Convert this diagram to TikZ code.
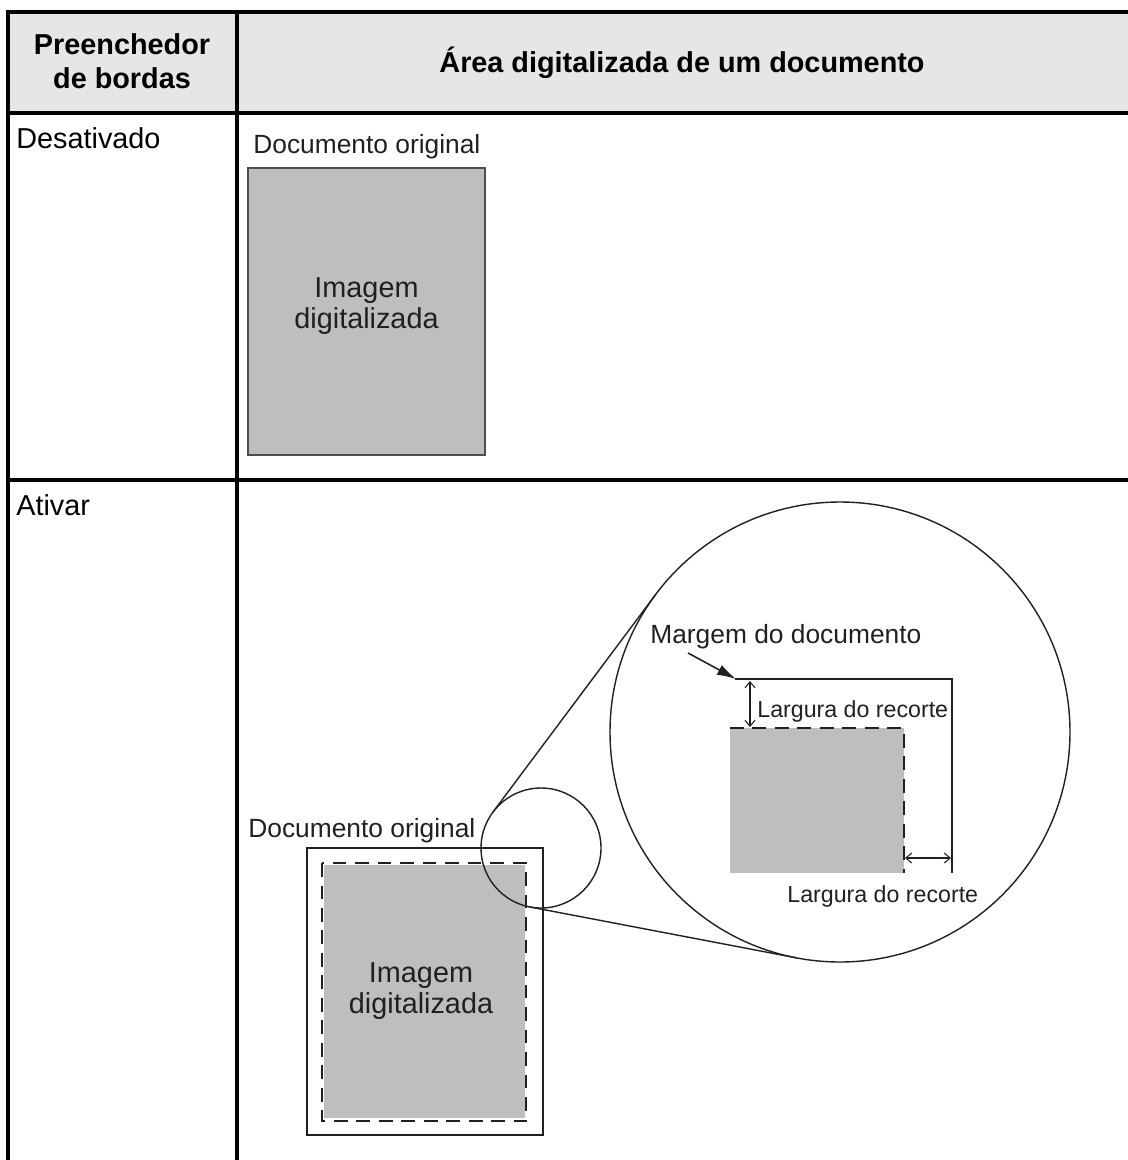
\documentclass[tikz,border=0pt]{standalone}
\usepackage{fontspec}
\setmainfont{Liberation Sans}
\usetikzlibrary{arrows.meta,calc}
\definecolor{tInk}{HTML}{231F20}
\definecolor{tHead}{HTML}{E6E6E6}
\definecolor{tScan}{HTML}{BCBEC0}
\tikzset{
  tline/.style   = {draw=black, line width=2pt},
  hdr/.style     = {font=\fontsize{16.4}{19.3}\selectfont\bfseries, text=black, align=center},
  rowlbl/.style  = {font=\fontsize{16.4}{19}\selectfont, text=black, anchor=base west, inner sep=0pt},
  doclbl/.style  = {font=\fontsize{15}{18}\selectfont, text=tInk, anchor=base west, inner sep=0pt},
  doclblsm/.style= {doclbl, font=\fontsize{13.2}{16}\selectfont},
  scan/.style    = {fill=tScan},
  scantxt/.style = {font=\fontsize{16.4}{17.6}\selectfont, text=tInk, align=center, inner sep=0pt},
  page/.style    = {draw=tInk, line width=0.8pt},
  cutline/.style = {draw=tInk, line width=0.8pt, dash pattern=on 7.8pt off 5pt},
  lens/.style    = {draw=tInk, line width=0.8pt},
  edgeln/.style  = {draw=tInk, line width=1.3pt},
  dim/.style     = {{Straight Barb[length=1.2mm,width=2mm]}-{Straight Barb[length=1.2mm,width=2mm]},
                    draw=tInk, line width=0.6pt},
  ptr/.style     = {-{Latex[length=3.8mm,width=2.2mm]}, draw=tInk, line width=0.9pt},
}
\begin{document}
\begin{tikzpicture}[x=0.02cm, y=-0.02cm]
  \useasboundingbox (0,0) rectangle (1128,1160);
  % table
  \fill[tHead] (8,12) rectangle (1128,113);
  \draw[tline] (1128,12) -- (8,12) -- (8,1160);
  \draw[tline] (8,113) -- (1128,113);
  \draw[tline] (8,480) -- (1128,480);
  \draw[tline] (237,12) -- (237,1160);
  \node[hdr] (h1) at (122,61)   {Preenchedor\\de bordas};
  \node[hdr, anchor=base] (h2) at (682,72) {Área digitalizada de um documento};
  \node[rowlbl] (r1) at (16,148) {Desativado};
  \node[rowlbl] (r2) at (16,515) {Ativar};

  % off
  \node[doclbl] (d1) at (253,153) {Documento original};
  \filldraw[scan, draw=tInk!80, line width=0.7pt] (248,168) rectangle (485,455);
  \node[scantxt] (s1) at (366.5,306) {Imagem\\digitalizada};

  % on
  \node[doclbl] (d2) at (248,837) {Documento original};
  \draw[page] (307,848) rectangle (543,1135);
  \fill[scan] (324,865) rectangle (525,1118);
  \draw[cutline] (322,863) rectangle (526,1121);
  \node[scantxt] (s2) at (421,991) {Imagem\\digitalizada};

  % magnifier
  \coordinate (ls) at (541,848);
  \coordinate (lb) at (840,732);
  \coordinate (ls1) at ($(ls)+(-143.2:60)$);
  \coordinate (lb1) at ($(lb)+(-143.2:230)$);
  \coordinate (ls2) at ($(ls)+(100.8:60)$);
  \coordinate (lb2) at ($(lb)+(100.8:230)$);
  \draw[lens] (ls) circle[radius=60];
  \draw[lens] (lb) circle[radius=230];
  \draw[lens] (ls1) -- (lb1);
  \draw[lens] (ls2) -- (lb2);

  % detail
  \fill[scan] (730,728) rectangle (904,873);
  \draw[cutline, line width=1.1pt] (730,728) -- (904,728) -- (904,873);
  \draw[edgeln] (735,679) -- (952,679) -- (952,873);
  \coordinate (mt) at (736,679);
  \coordinate (mf) at (688,653);
  \draw[ptr] (mf) -- (mt);
  \coordinate (v1) at (750,681);
  \coordinate (v2) at (750,727);
  \draw[dim] (v1) -- (v2);
  \coordinate (w1) at (905,858);
  \coordinate (w2) at (951,858);
  \draw[dim] (w1) -- (w2);
  \node[doclbl] (mg) at (650,643) {Margem do documento};
  \node[doclblsm] (l1) at (757,717) {Largura do recorte};
  \node[doclblsm] (l2) at (787,902) {Largura do recorte};
\end{tikzpicture}
\end{document}
